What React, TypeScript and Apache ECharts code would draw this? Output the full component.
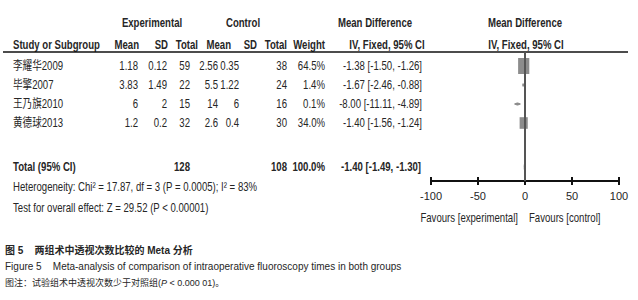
import React, { useEffect, useRef } from "react";
import * as echarts from "echarts";

const studies = ["李耀华2009", "毕擎2007", "王乃旗2010", "黄德球2013"];
const expMean = ["1.18", "3.83", "6", "1.2"];
const expSD = ["0.12", "1.49", "2", "0.2"];
const expTotal = [59, 22, 15, 32];
const ctlMean = ["2.56", "5.5", "14", "2.6"];
const ctlSD = ["0.35", "1.22", "6", "0.4"];
const ctlTotal = [38, 24, 16, 30];
const weights = [64.5, 1.4, 0.1, 34.0];
const md = [-1.38, -1.67, -8.0, -1.4];
const lower = [-1.5, -2.46, -11.11, -1.56];
const upper = [-1.26, -0.88, -4.89, -1.24];
const total = { exp: 128, ctl: 108, weight: 100.0, md: -1.4, lo: -1.49, hi: -1.3 };
const xTicks = [-100, -50, 0, 50, 100];

const ARIAL = "'Liberation Sans', 'Noto Sans CJK SC', sans-serif";

export default function App() {
  const ref = useRef<HTMLDivElement>(null);
  useEffect(() => {
    const chart = echarts.init(ref.current!, null, { renderer: "svg" });
    const rowY = [66, 85, 104, 123];
    const totalY = 167;
    const fs = 12;
    const SX = 0.8;
    const txt = (text: string, x: number, y: number, align = "left", bold = false, size = fs, sx = SX) => ({
      type: "text",
      x,
      y,
      scaleX: sx,
      silent: true,
      style: {
        text,
        align,
        verticalAlign: "middle",
        font: `${bold ? "bold " : ""}${size}px ${ARIAL}`,
        fill: "#262626",
      },
    });
    const fmt = (v: number) => v.toFixed(2);
    const g: any[] = [];
    g.push(txt("Experimental", 152, 23, "center", true));
    g.push(txt("Control", 243, 23, "center", true));
    g.push(txt("Mean Difference", 375, 23, "center", true));
    g.push(txt("Mean Difference", 525, 23, "center", true));
    g.push(txt("Study or Subgroup", 13, 45, "left", true));
    g.push(txt("Mean", 139, 45, "right", true));
    g.push(txt("SD", 168, 45, "right", true));
    g.push(txt("Total", 198, 45, "right", true));
    g.push(txt("Mean", 231, 45, "right", true));
    g.push(txt("SD", 257, 45, "right", true));
    g.push(txt("Total", 287, 45, "right", true));
    g.push(txt("Weight", 325, 45, "right", true));
    g.push(txt("IV, Fixed, 95% CI", 387, 45, "center", true));
    g.push(txt("IV, Fixed, 95% CI", 526, 45, "center", true));
    g.push({ type: "line", silent: true, shape: { x1: 3, y1: 52, x2: 628, y2: 52 }, style: { stroke: "#111", lineWidth: 1.5 } });
    studies.forEach((s, i) => {
      const y = rowY[i];
      g.push(txt(s, 13, y));
      g.push(txt(expMean[i], 138, y, "right"));
      g.push(txt(expSD[i], 167, y, "right"));
      g.push(txt(String(expTotal[i]), 190, y, "right"));
      g.push(txt(ctlMean[i], 218, y, "right"));
      g.push(txt(ctlSD[i], 239, y, "right"));
      g.push(txt(String(ctlTotal[i]), 287, y, "right"));
      g.push(txt(weights[i].toFixed(1) + "%", 325, y, "right"));
      g.push(txt(`${fmt(md[i])} [${fmt(lower[i])}, ${fmt(upper[i])}]`, 422, y, "right"));
    });
    g.push(txt("Total (95% CI)", 13, totalY, "left", true));
    g.push(txt(String(total.exp), 190, totalY, "right", true));
    g.push(txt(String(total.ctl), 287, totalY, "right", true));
    g.push(txt(total.weight.toFixed(1) + "%", 325, totalY, "right", true));
    g.push(txt(`${fmt(total.md)} [${fmt(total.lo)}, ${fmt(total.hi)}]`, 421, totalY, "right", true));
    g.push(txt("Heterogeneity: Chi² = 17.87, df = 3 (P = 0.0005); I² = 83%", 13, 187));
    g.push(txt("Test for overall effect: Z = 29.52 (P < 0.00001)", 13, 208));
    g.push(txt("Favours [experimental]", 518, 218, "right"));
    g.push(txt("Favours [control]", 529, 218, "left"));
    g.push(txt("图 5    两组术中透视次数比较的 Meta 分析", 5, 250, "left", true, 10, 1));
    g.push(txt("Figure 5    Meta-analysis of comparison of intraoperative fluoroscopy times in both groups", 5, 266, "left", false, 10, 1));
    g.push({
      type: "text",
      x: 5,
      y: 283,
      silent: true,
      style: {
        text: "图注：试验组术中透视次数少于对照组({i|P} < 0.000 01)。",
        verticalAlign: "middle",
        font: `9px ${ARIAL}`,
        fill: "#262626",
        rich: { i: { fontStyle: "italic", fontSize: 9, fontFamily: ARIAL, fill: "#262626" } },
      },
    });

    const yMin = 1 - 14 / 19;
    const yMax = yMin + 129 / 19;
    const studyData = studies.map((_, i) => [md[i], i + 1, lower[i], upper[i], weights[i]]);
    const totalRow = 1 + (totalY - rowY[0]) / 19;

    const axisBase = {
      type: "value",
      min: -100,
      max: 100,
      interval: 50,
      position: "bottom",
      splitLine: { show: false },
      axisLine: { show: true, onZero: false, lineStyle: { color: "#111", width: 2 } },
    };

    chart.setOption({
      animation: false,
      backgroundColor: "#fff",
      grid: { left: 431, right: 19, top: 52, bottom: 119, containLabel: false },
      xAxis: [
        {
          ...axisBase,
          axisTick: { show: true, length: 4, lineStyle: { color: "#111", width: 2 } },
          axisLabel: { show: true, margin: 9, color: "#262626", fontSize: 11, fontFamily: ARIAL },
          data: xTicks,
        },
        {
          ...axisBase,
          axisTick: { show: true, inside: true, length: 4, lineStyle: { color: "#111", width: 2 } },
          axisLabel: { show: false },
        },
      ],
      yAxis: { type: "value", inverse: true, min: yMin, max: yMax, show: false },
      graphic: g,
      series: [
        {
          type: "custom",
          xAxisIndex: 0,
          data: studyData,
          renderItem: (params: any, api: any) => {
            const m = api.value(0);
            const row = api.value(1);
            const lo = api.value(2);
            const hi = api.value(3);
            const w = api.value(4);
            const c = api.coord([m, row]);
            const pl = api.coord([lo, row]);
            const ph = api.coord([hi, row]);
            const h = Math.max(3, 16 * Math.sqrt(w / 64.5));
            const wd = Math.max(2, h * 0.7);
            return {
              type: "group",
              children: [
                { type: "line", shape: { x1: pl[0], y1: pl[1], x2: ph[0], y2: ph[1] }, style: { stroke: "#222", lineWidth: 1 } },
                { type: "rect", shape: { x: c[0] - wd / 2, y: c[1] - h / 2, width: wd, height: h }, style: { fill: "#8c8c8c" } },
              ],
            };
          },
          markLine: {
            silent: true,
            symbol: ["none", "none"],
            label: { show: false },
            lineStyle: { color: "#555", width: 2, type: "solid" },
            data: [{ xAxis: 0 }],
          },
          z: 3,
        },
        {
          type: "custom",
          xAxisIndex: 0,
          data: [[total.md, totalRow, total.lo, total.hi]],
          renderItem: (params: any, api: any) => {
            const row = api.value(1);
            const c = api.coord([api.value(0), row]);
            const l = api.coord([api.value(2), row]);
            const r = api.coord([api.value(3), row]);
            return {
              type: "polygon",
              shape: { points: [[l[0], c[1]], [c[0], c[1] - 4], [r[0], c[1]], [c[0], c[1] + 4]] },
              style: { fill: "#111" },
            };
          },
          z: 4,
        },
      ],
    });
    return () => chart.dispose();
  }, []);
  return (
    <div
      ref={ref}
      style={{ position: "fixed", left: 0, top: 0, width: 638, height: 300, background: "#fff" }}
    />
  );
}
